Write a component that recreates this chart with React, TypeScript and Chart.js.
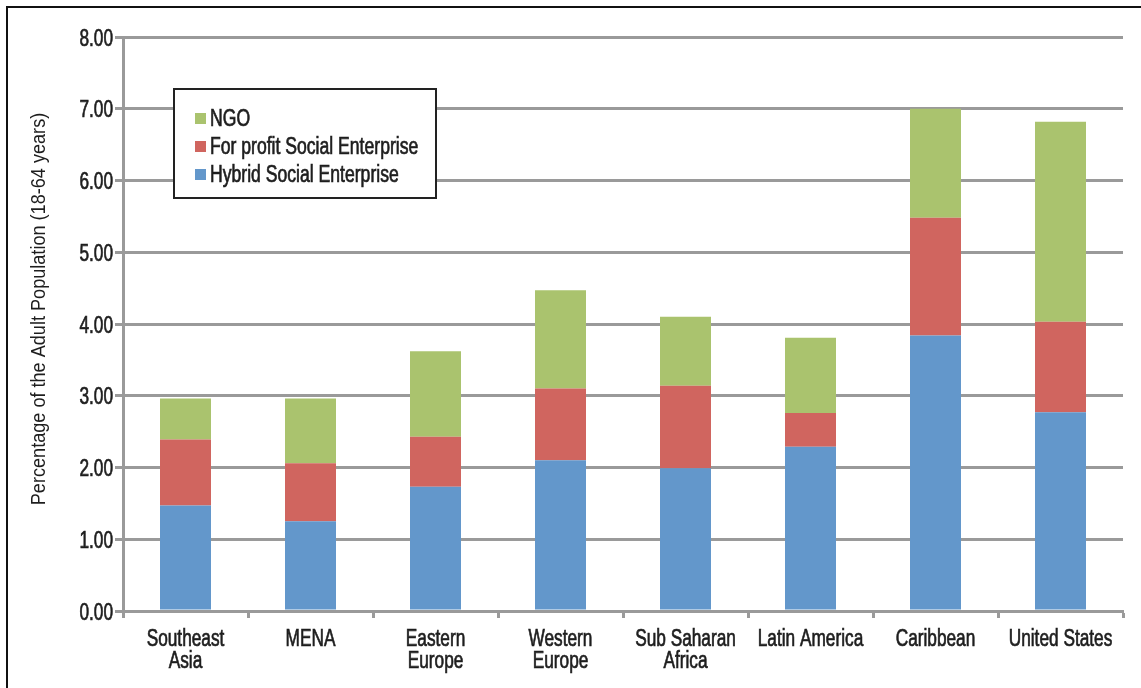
import React, { useEffect, useRef } from "react";
import { Chart, registerables } from "chart.js";

Chart.register(...registerables);

const categories: (string | string[])[] = [
  ["Southeast", "Asia"],
  "MENA",
  ["Eastern", "Europe"],
  ["Western", "Europe"],
  ["Sub Saharan", "Africa"],
  "Latin America",
  "Caribbean",
  "United States",
];

const hybridValues = [1.47, 1.25, 1.73, 2.1, 1.99, 2.29, 3.84, 2.77];
const forProfitValues = [0.92, 0.81, 0.7, 1.0, 1.15, 0.47, 1.64, 1.26];
const ngoValues = [0.57, 0.9, 1.19, 1.37, 0.96, 1.05, 1.52, 2.79];

const yTickValues = [0, 1, 2, 3, 4, 5, 6, 7, 8];

const seriesNames = ["Hybrid Social Enterprise", "For profit Social Enterprise", "NGO"];
const seriesColors = ["#6397CB", "#D0655F", "#AAC36E"];
const yAxisTitle = "Percentage of the Adult Population (18-64 years)";

const FONT = '"Liberation Sans", Arial, sans-serif';
const TEXT = "#1e1e1e";
const GRID = "#9a9a9a";
const SQUEEZE = 0.75;

function drawText(
  ctx: CanvasRenderingContext2D,
  text: string,
  x: number,
  y: number,
  align: CanvasTextAlign,
  size: number,
  squeeze: number,
  heavy = true
) {
  ctx.save();
  ctx.translate(x, y);
  ctx.scale(squeeze, 1);
  ctx.font = `${size}px ${FONT}`;
  ctx.fillStyle = TEXT;
  ctx.strokeStyle = TEXT;
  ctx.lineWidth = 0.7;
  ctx.textAlign = align;
  ctx.textBaseline = "alphabetic";
  ctx.fillText(text, 0, 0);
  if (heavy) ctx.strokeText(text, 0, 0);
  ctx.restore();
}

const labelsPlugin = {
  id: "condensedLabels",
  afterDraw(chart: any) {
    const ctx = chart.ctx;
    const xs = chart.scales.x;
    const ys = chart.scales.y;
    yTickValues.forEach((v) => {
      const py = ys.getPixelForValue(v);
      drawText(ctx, v.toFixed(2), 113, py + 8.5, "right", 23, SQUEEZE);
    });
    categories.forEach((c, i) => {
      const px = xs.getPixelForValue(i);
      const lines = Array.isArray(c) ? c : [c];
      lines.forEach((ln, j) => {
        drawText(ctx, ln, px, 646 + j * 22, "center", 23, SQUEEZE);
      });
    });
    ctx.save();
    ctx.translate(44.5, 309);
    ctx.rotate(-Math.PI / 2);
    ctx.scale(0.905, 1);
    ctx.font = `20px ${FONT}`;
    ctx.fillStyle = TEXT;
    ctx.textAlign = "center";
    ctx.textBaseline = "alphabetic";
    ctx.fillText(yAxisTitle, 0, 0);
    ctx.restore();
  },
};

const legendPlugin = {
  id: "boxLegend",
  afterDatasetsDraw(chart: any) {
    const ctx = chart.ctx;
    const x0 = 174, y0 = 89, w = 262, h = 109;
    ctx.save();
    ctx.fillStyle = "#ffffff";
    ctx.fillRect(x0, y0, w, h);
    ctx.strokeStyle = "#222222";
    ctx.lineWidth = 2;
    ctx.strokeRect(x0, y0, w, h);
    ctx.restore();
    const ds = chart.data.datasets.slice().reverse();
    ds.forEach((d: any, i: number) => {
      const cy = 118 + i * 28;
      ctx.save();
      ctx.fillStyle = d.backgroundColor;
      ctx.fillRect(195, cy - 5, 11, 11);
      ctx.restore();
      drawText(ctx, d.label, 210, cy + 8, "left", 23, 0.765);
    });
  },
};

export default function App() {
  const ref = useRef<HTMLCanvasElement | null>(null);

  useEffect(() => {
    if (!ref.current) return;
    const values = [hybridValues, forProfitValues, ngoValues];
    const chart = new Chart(ref.current, {
      type: "bar",
      data: {
        labels: categories,
        datasets: values.map((v, i) => ({
          label: seriesNames[i],
          data: v,
          backgroundColor: seriesColors[i],
          borderWidth: 0,
          barPercentage: 0.408,
          categoryPercentage: 1,
        })),
      },
      options: {
        responsive: false,
        animation: false,
        layout: { padding: { left: 20, right: 18, top: 37, bottom: 0 } },
        plugins: {
          legend: { display: false },
          tooltip: { enabled: false },
        },
        scales: {
          x: {
            stacked: true,
            afterFit: (s: any) => {
              s.height = 77;
            },
            grid: {
              display: true,
              drawOnChartArea: false,
              drawTicks: true,
              tickLength: 7,
              tickWidth: 3,
              tickColor: GRID,
              offset: true,
            },
            border: { display: true, color: GRID, width: 3 },
            ticks: { display: false, autoSkip: false },
          },
          y: {
            stacked: true,
            min: 0,
            max: 8,
            afterFit: (s: any) => {
              s.width = 103;
            },
            grid: {
              color: GRID,
              lineWidth: 3,
              drawTicks: true,
              tickLength: 8,
              tickColor: GRID,
            },
            border: { display: true, color: GRID, width: 3 },
            ticks: { display: false, stepSize: 1 },
          },
        },
      },
      plugins: [legendPlugin, labelsPlugin],
    });
    return () => chart.destroy();
  }, []);

  return (
    <div
      style={{
        position: "fixed",
        left: 0,
        top: 0,
        width: 1141,
        height: 688,
        background: "#ffffff",
        overflow: "hidden",
      }}
    >
      <canvas
        ref={ref}
        width={1141}
        height={688}
        style={{ position: "absolute", left: 0, top: 0, display: "block" }}
      />
      <div
        style={{
          position: "absolute",
          left: 6,
          top: 6,
          width: 1200,
          height: 800,
          borderTop: "2px solid #111",
          borderLeft: "2px solid #111",
          pointerEvents: "none",
        }}
      />
    </div>
  );
}
